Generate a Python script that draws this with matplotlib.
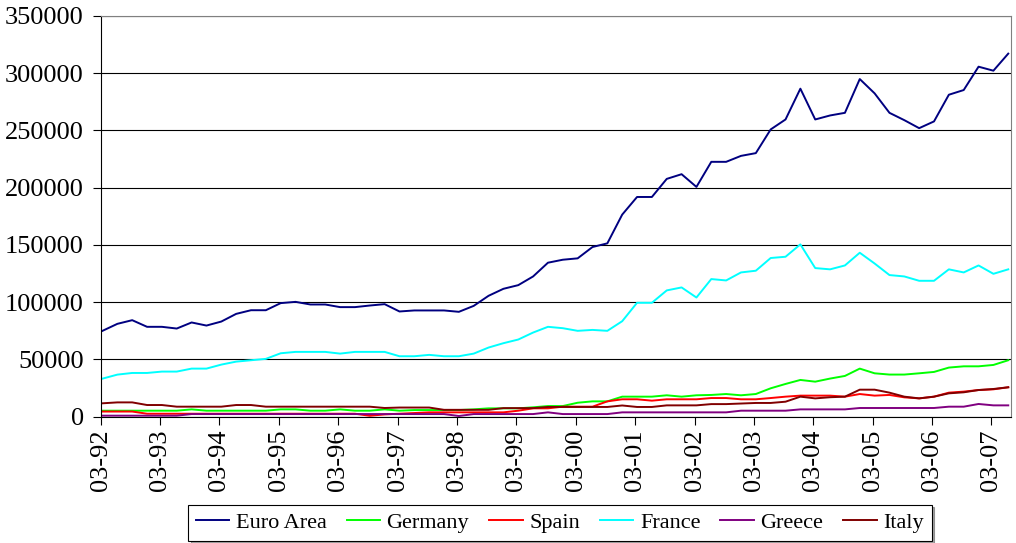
import numpy as np
import matplotlib.pyplot as plt

# quarterly data, 03-92 to 06-07
years = ['92', '93', '94', '95', '96', '97', '98', '99', '00', '01', '02', '03', '04', '05', '06', '07']
tick_labels = ['03-' + y for y in years]

euro = [75000, 81100, 84300, 78500, 78500, 77000, 82300, 79600, 83100, 89800,
        93000, 93000, 99200, 100300, 98000, 98000, 95700, 95700, 97100, 98300,
        91900, 92800, 92800, 92800, 91600, 96800, 105600, 111700, 114900, 122500,
        134500, 137100, 138300, 148200, 151400, 176500, 191900, 191900, 207700, 211800,
        200700, 222600, 222600, 227800, 230200, 250900, 259600, 286500, 259600, 263100,
        265400, 294900, 282400, 265400, 259000, 252000, 257900, 281200, 285300, 305700,
        302200, 317100]

germany = [5250, 5250, 5250, 5250, 5250, 5250, 6400, 5250, 5250, 5250,
           5250, 5250, 6400, 6400, 5250, 5250, 6400, 5250, 5250, 6400,
           5250, 5800, 5800, 5800, 5800, 6400, 7300, 7300, 7300, 8200,
           9300, 9300, 12200, 13400, 13400, 17500, 17500, 17500, 18700, 17500,
           18700, 19000, 19800, 18700, 19800, 24800, 28600, 32100, 30600, 33300,
           35600, 42000, 37900, 36800, 36800, 37900, 39100, 42900, 44000, 44000,
           45200, 49300]

spain = [4500, 4500, 4500, 2600, 2600, 2600, 2600, 2600, 2600, 2600,
         2600, 2600, 2600, 2600, 2600, 2600, 2600, 2600, 800, 2000,
         2600, 3200, 3800, 3800, 3800, 3800, 3800, 3800, 5250, 7300,
         7300, 8750, 8750, 8750, 13400, 15200, 15200, 14000, 15200, 15200,
         15200, 16300, 16300, 15200, 15200, 16300, 17500, 18400, 18400, 18400,
         17500, 19800, 18400, 19000, 16900, 16000, 17500, 21000, 21900, 23300,
         23900, 25700]

france = [33250, 36750, 38200, 38200, 39400, 39400, 42000, 42000, 45500, 48100,
          49300, 50500, 55400, 56600, 56600, 56600, 55100, 56600, 56600, 56600,
          52800, 52800, 54000, 52800, 52800, 55100, 60400, 64200, 67400, 73500,
          78500, 77300, 75000, 75800, 75000, 83400, 99500, 99500, 110300, 112900,
          104100, 120200, 119000, 126000, 127500, 138600, 139700, 150500, 129800, 128700,
          132100, 143200, 133800, 123700, 122500, 118700, 118700, 128700, 126000, 132100,
          124800, 128700]

greece = [900, 900, 900, 900, 900, 900, 2300, 2300, 2300, 2300,
          2300, 2300, 2300, 2300, 2300, 2300, 2300, 2300, 2300, 2300,
          2300, 2300, 2300, 2300, 600, 2300, 2300, 2300, 2300, 2300,
          3800, 2300, 2300, 2300, 2300, 3800, 3800, 3800, 3800, 3800,
          3800, 3800, 3800, 5250, 5250, 5250, 5250, 6400, 6400, 6400,
          6400, 7600, 7600, 7600, 7600, 7600, 7600, 8750, 8750, 11100,
          9900, 9900]

italy = [11700, 12500, 12500, 10200, 10200, 8750, 8750, 8750, 8750, 10200,
         10200, 8750, 8750, 8750, 8750, 8750, 8750, 8750, 8750, 7600,
         8000, 8000, 8000, 6000, 6000, 6000, 6000, 7500, 7500, 7500,
         8500, 8500, 8500, 8500, 8500, 9800, 8500, 8500, 9900, 9900,
         9900, 11000, 11000, 11500, 12000, 12000, 13100, 17500, 16000, 17000,
         17500, 23600, 23600, 21000, 17500, 16000, 17500, 20400, 21300, 23300,
         24200, 25700]

series = [('Euro Area', euro, '#000080'),
          ('Germany', germany, '#00ff00'),
          ('Spain', spain, '#ff0000'),
          ('France', france, '#00ffff'),
          ('Greece', greece, '#800080'),
          ('Italy', italy, '#800000')]

plt.rcParams['font.family'] = ['Liberation Serif', 'DejaVu Serif']

fig = plt.figure(figsize=(10.16, 5.43), dpi=100)
ax = fig.add_axes([0.099, 0.2326, 0.896, 0.738])

x = np.arange(len(euro))
for name, vals, col in series:
    ax.plot(x, vals, color=col, lw=1.4, label=name)

ax.set_ylim(0, 350000)
ax.set_yticks(np.arange(0, 350001, 50000))
ax.set_xlim(-0.13, 61.18)
ax.set_xticks(np.arange(0, 62, 4) - 0.13)
ax.set_xticklabels(tick_labels, rotation=90)

ax.yaxis.grid(True, color='black', lw=0.8)
ax.set_axisbelow(True)
ax.tick_params(axis='both', labelsize=19, direction='out', length=6, width=0.8, color='black')
ax.tick_params(axis='y', pad=6)
ax.tick_params(axis='x', pad=3)
for s in ['top', 'right']:
    ax.spines[s].set_color('#808080')
for s in ['left', 'bottom']:
    ax.spines[s].set_color('black')

leg = fig.legend(loc='lower center', bbox_to_anchor=(0.551, 0.004), ncol=6, fontsize=16,
                 frameon=True, fancybox=False, shadow=True, handlelength=1.5,
                 handletextpad=0.3, columnspacing=0.9, borderpad=0.35, borderaxespad=0.0)
leg.get_frame().set_edgecolor('black')
leg.get_frame().set_linewidth(0.8)

fig.savefig('out.png', dpi=100)
